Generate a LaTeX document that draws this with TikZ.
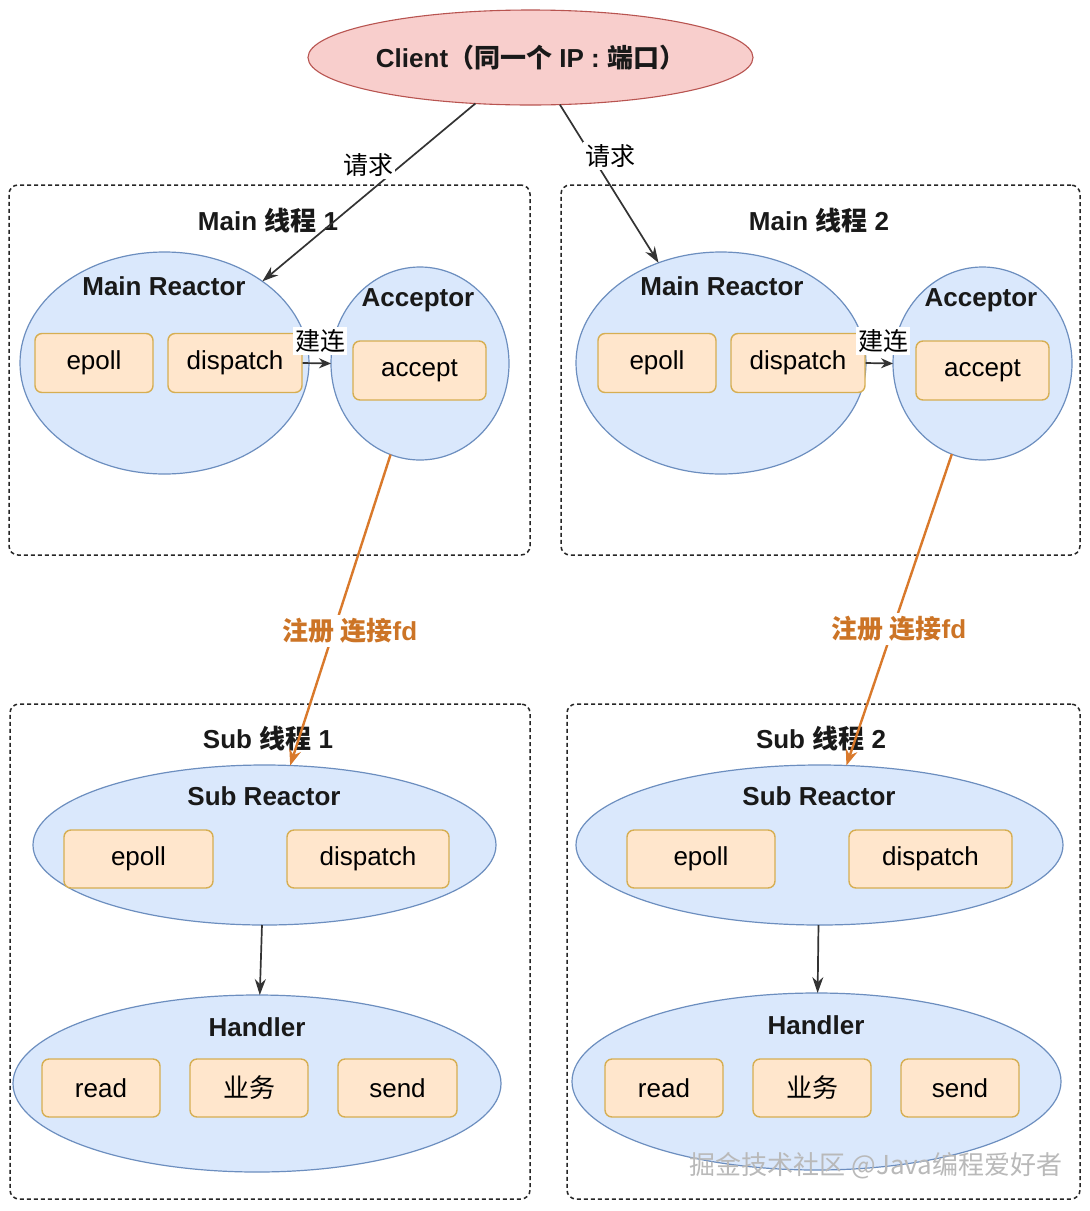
\documentclass[tikz,border=0pt]{standalone}
\usepackage{fontspec}
\setmainfont{Liberation Sans}
\newfontfamily\cjk{Noto Sans CJK SC}
\usetikzlibrary{shapes.geometric,arrows.meta}
\definecolor{ellf}{HTML}{DAE8FC}
\definecolor{ellb}{HTML}{6C8EBF}
\definecolor{boxf}{HTML}{FFE6CC}
\definecolor{boxb}{HTML}{D6AE52}
\definecolor{clf}{HTML}{F8CECC}
\definecolor{clb}{HTML}{B85450}
\definecolor{org}{HTML}{D9792B}
\definecolor{orgt}{HTML}{CC7426}
\definecolor{dk}{HTML}{333333}
\begin{document}
\begin{tikzpicture}[x=1pt,y=-1pt,
 ell/.style={ellipse, draw=ellb, fill=ellf, line width=1.2pt, inner sep=0pt, outer sep=0pt},
 box/.style={rectangle, rounded corners=7pt, draw=boxb, fill=boxf, line width=1.4pt, minimum height=59pt, inner sep=0pt, font=\fontsize{26}{30}\selectfont},
 grp/.style={draw=black!85, dash pattern=on 4pt off 3pt, rounded corners=9pt, line width=1.5pt, inner sep=0pt},
 ttl/.style={font=\bfseries\fontsize{26}{30}\selectfont, text=black!90, inner sep=1pt},
 arr/.style={draw=dk, line width=1.7pt, -{Stealth[length=16pt,width=11pt]}},
 oarr/.style={draw=org, line width=2.4pt, -{Stealth[length=16pt,width=12pt]}},
 lbl/.style={fill=white, inner sep=2pt, font=\fontsize{25}{30}\selectfont\cjk},
 olbl/.style={fill=white, inner sep=3pt, text=orgt, font=\fontsize{26}{30}\selectfont\bfseries},
]
\fill[white] (0,0) rectangle (1090,1211);
\useasboundingbox (0,0) rectangle (1090,1211);

% groups
\node[grp, minimum width=521pt, minimum height=370pt] (g1) at (269.5,370) {};
\node[grp, minimum width=519pt, minimum height=370pt] (g2) at (820.5,370) {};
\node[grp, minimum width=520pt, minimum height=495pt] (g3) at (270,951.5) {};
\node[grp, minimum width=513pt, minimum height=495pt] (g4) at (823.5,951.5) {};

% client
\node[ellipse, draw=clb, fill=clf, line width=1.1pt, minimum width=445pt, minimum height=95pt, outer sep=0pt, ttl] (cl) at (530.5,57.5) {Client{\cjk（同一个} IP : {\cjk 端口）}};

% titles
\node[ttl] (t1) at (268,221) {Main {\cjk 线程} 1};
\node[ttl] (t2) at (819,221) {Main {\cjk 线程} 2};
\node[ttl] (t3) at (268,739) {Sub {\cjk 线程} 1};
\node[ttl] (t4) at (821,739) {Sub {\cjk 线程} 2};

% main 1
\node[ell, minimum width=289pt, minimum height=222pt] (mr1) at (164.5,363) {};
\node[ttl] (mr1t) at (164,286) {Main Reactor};
\node[box, minimum width=118pt] (ep1) at (94,363) {epoll};
\node[box, minimum width=134pt] (dp1) at (235,363) {dispatch};
\node[ell, minimum width=178pt, minimum height=193pt] (ac1) at (420,363.5) {};
\node[ttl] (ac1t) at (418,300) {Acceptor};
\node[box, minimum width=133pt] (as1) at (419.5,370.5) {accept};

% main 2
\node[ell, minimum width=290pt, minimum height=222pt] (mr2) at (721,363) {};
\node[ttl] (mr2t) at (722,286) {Main Reactor};
\node[box, minimum width=118pt] (ep2) at (657,363) {epoll};
\node[box, minimum width=134pt] (dp2) at (798,363) {dispatch};
\node[ell, minimum width=179pt, minimum height=193pt] (ac2) at (982.5,363.5) {};
\node[ttl] (ac2t) at (981,300) {Acceptor};
\node[box, minimum width=133pt] (as2) at (982.5,370.5) {accept};

% sub 1
\node[ell, minimum width=463pt, minimum height=160pt] (sr1) at (264.5,845) {};
\node[ttl] (sr1t) at (264,796) {Sub Reactor};
\node[box, minimum width=149pt, minimum height=58pt] (sep1) at (138.5,859) {epoll};
\node[box, minimum width=162pt, minimum height=58pt] (sdp1) at (368,859) {dispatch};
\node[ell, minimum width=488pt, minimum height=177pt] (h1) at (257,1083.5) {};
\node[ttl] (h1t) at (257,1027) {Handler};
\node[box, minimum width=118pt, minimum height=58pt] (rd1) at (101,1088) {read};
\node[box, minimum width=118pt, minimum height=58pt] (yw1) at (249,1088) {\cjk 业务};
\node[box, minimum width=119pt, minimum height=58pt] (sd1) at (397.5,1088) {send};

% sub 2
\node[ell, minimum width=487pt, minimum height=160pt] (sr2) at (819.5,845) {};
\node[ttl] (sr2t) at (819,796) {Sub Reactor};
\node[box, minimum width=148pt, minimum height=58pt] (sep2) at (701,859) {epoll};
\node[box, minimum width=163pt, minimum height=58pt] (sdp2) at (930.5,859) {dispatch};
\node[ell, minimum width=489pt, minimum height=177pt] (h2) at (816.5,1081.5) {};
\node[ttl] (h2t) at (816,1025) {Handler};
\node[box, minimum width=118pt, minimum height=58pt] (rd2) at (664,1088) {read};
\node[box, minimum width=118pt, minimum height=58pt] (yw2) at (812,1088) {\cjk 业务};
\node[box, minimum width=118pt, minimum height=58pt] (sd2) at (960,1088) {send};

% connectors
\draw[arr] (cl) -- (mr1);
\draw[arr] (cl) -- (mr2);
\node[lbl] (q1) at (368,165) {请求};
\node[lbl] (q2) at (610,156) {请求};
\draw[arr, -{Stealth[length=12pt,width=10pt]}] (dp1.east) -- (ac1.west);
\draw[arr, -{Stealth[length=12pt,width=10pt]}] (dp2.east) -- (ac2.west);
\node[lbl] (j1) at (320,341) {建连};
\node[lbl] (j2) at (883,341) {建连};
\draw[oarr] (ac1) -- (sr1);
\draw[oarr] (ac2) -- (sr2);
\node[olbl] (z1) at (350,631) {{\cjk 注册 连接}fd};
\node[olbl] (z2) at (899,629) {{\cjk 注册 连接}fd};
\draw[arr] (sr1) -- (h1);
\draw[arr] (sr2) -- (h2);

% watermark
\node[text=gray!55, font=\fontsize{26}{30}\selectfont\cjk] (wm) at (876,1166) {掘金技术社区 @Java编程爱好者};
\end{tikzpicture}
\end{document}
